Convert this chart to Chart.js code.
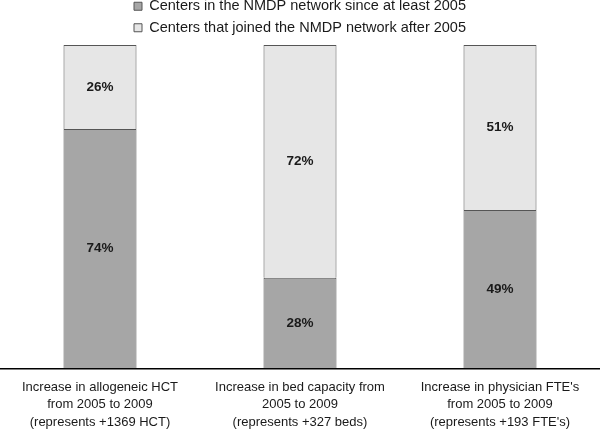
<!DOCTYPE html>
<html>
<head>
<meta charset="utf-8">
<script src="https://cdn.jsdelivr.net/npm/chart.js@4.4.0/dist/chart.umd.min.js"></script>
<style>
  html, body { margin: 0; padding: 0; background: #fff; }
  #wrap { width: 600px; height: 432px; }
</style>
</head>
<body>
<div id="wrap"><canvas id="grafico"></canvas></div>
<script>
var categorias = [
  ["Increase in allogeneic HCT", "from 2005 to 2009", "(represents +1369 HCT)"],
  ["Increase in bed capacity from", "2005 to 2009", "(represents +327 beds)"],
  ["Increase in physician FTE's", "from 2005 to 2009", "(represents +193 FTE's)"]
];
var nombres = ["Centers in the NMDP network since at least 2005", "Centers that joined the NMDP network after 2005"];
var antiguos = [74, 28, 49];
var nuevos = [26, 72, 51];

// etiquetas de porcentaje dentro de cada segmento
var etiquetas = {
  id: 'etiquetas',
  afterDatasetsDraw: function(chart) {
    var ctx = chart.ctx;
    ctx.save();
    ctx.font = "bold 13.5px 'Liberation Sans', Arial, sans-serif";
    ctx.fillStyle = '#1a1a1a';
    ctx.textAlign = 'center';
    ctx.textBaseline = 'middle';
    chart.data.datasets.forEach(function(ds, i) {
      chart.getDatasetMeta(i).data.forEach(function(bar, j) {
        ctx.fillText(ds.data[j] + '%', bar.x, (bar.y + bar.base) / 2);
      });
    });
    ctx.restore();
  }
};

var chartdata = {
  labels: categorias,
  datasets: [
    {
      label: nombres[0],
      data: antiguos,
      backgroundColor: '#a6a6a6',
      borderColor: '#555555',
      borderWidth: 1,
      borderSkipped: 'bottom'
    },
    {
      label: nombres[1],
      data: nuevos,
      backgroundColor: '#e6e6e6',
      borderColor: '#555555',
      borderWidth: 1,
      borderSkipped: 'bottom'
    }
  ]
};

var ctx = document.getElementById('grafico');
new Chart(ctx, {
  type: 'bar',
  data: chartdata,
  plugins: [etiquetas],
  options: {
    responsive: true,
    maintainAspectRatio: false,
    animation: false,
    barPercentage: 0.365,
    categoryPercentage: 1,
    layout: { padding: { top: -8, left: 0, right: 0, bottom: -9 } },
    plugins: {
      tooltip: { enabled: false },
      legend: {
        position: 'top',
        labels: {
          boxWidth: 8,
          boxHeight: 8,
          padding: 7,
          color: '#1a1a1a',
          font: { family: "'Liberation Sans', Arial, sans-serif", size: 14.5 }
        }
      }
    },
    scales: {
      x: {
        stacked: true,
        grid: { display: false, drawTicks: false },
        border: { color: '#000', width: 1.5 },
        ticks: {
          color: '#1a1a1a',
          padding: 10,
          maxRotation: 0,
          autoSkip: false,
          font: { family: "'Liberation Sans', Arial, sans-serif", size: 13, lineHeight: 1.35 }
        }
      },
      y: {
        stacked: true,
        display: false,
        min: 0,
        max: 100
      }
    }
  }
});
</script>
</body>
</html>
